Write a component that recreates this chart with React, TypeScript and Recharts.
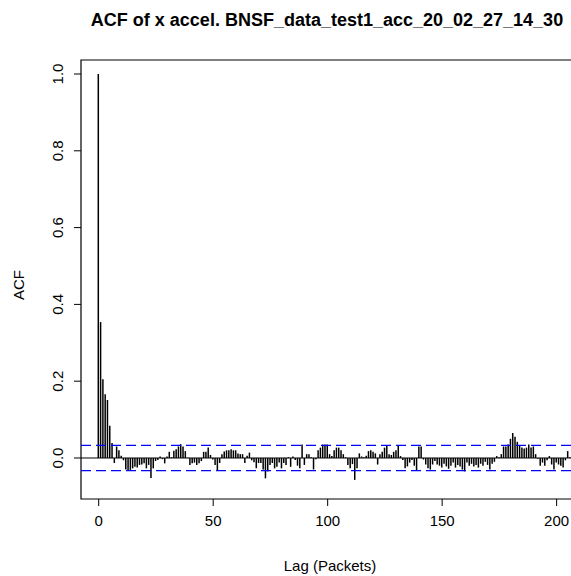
import React from 'react';
import {
  ComposedChart,
  Bar,
  XAxis,
  YAxis,
  ReferenceLine,
  ReferenceArea,
} from 'recharts';

// autocorrelation values, lag 0 .. 206
const acfValues = [
  1.0, 0.354, 0.205, 0.166, 0.151, 0.084, 0.039, -0.013, 0.03, 0.02,
  0.006, -0.006, -0.03, -0.033, -0.031, -0.027, -0.023, -0.025, -0.018, -0.017,
  -0.014, -0.027, -0.018, -0.052, -0.027, -0.008, -0.005, 0.004, -0.003, -0.014,
  0.004, 0.016, 0.002, 0.019, 0.023, 0.03, 0.036, 0.03, 0.018, 0.001,
  -0.018, -0.014, -0.012, -0.018, -0.014, -0.008, 0.016, 0.016, 0.027, 0.008,
  -0.004, -0.018, -0.034, -0.013, 0.01, 0.017, 0.02, 0.02, 0.023, 0.02,
  0.02, 0.012, 0.01, 0.01, -0.013, 0.006, 0.014, -0.006, -0.011, -0.027,
  -0.013, -0.013, -0.03, -0.053, -0.035, -0.018, -0.013, -0.027, -0.023, -0.012,
  -0.027, -0.013, -0.018, 0.002, -0.023, 0.004, -0.005, -0.02, -0.027, 0.035,
  -0.018, 0.01, 0.01, 0.002, -0.03, -0.003, 0.02, 0.027, 0.035, 0.035,
  0.035, 0.01, 0.005, 0.02, 0.027, 0.027, 0.02, 0.01, 0.002, -0.018,
  -0.027, -0.016, -0.057, -0.027, 0.012, 0.004, 0.002, 0.006, 0.018, 0.02,
  0.016, 0.012, -0.017, 0.01, 0.016, 0.027, 0.032, 0.01, 0.008, 0.016,
  0.02, 0.032, 0.005, -0.005, -0.027, -0.022, -0.012, -0.005, -0.02, -0.033,
  0.03, 0.03, -0.004, -0.017, -0.027, -0.03, -0.017, -0.008, -0.017, -0.02,
  -0.025, -0.015, -0.022, -0.028, -0.02, -0.012, -0.025, -0.018, -0.022, -0.03,
  -0.035, -0.012, -0.02, -0.015, -0.022, -0.018, -0.025, -0.015, -0.02, -0.01,
  -0.018, -0.03, -0.015, -0.01, 0.005, 0.002, 0.01, 0.03, 0.03, 0.035,
  0.05, 0.065, 0.055, 0.042, 0.033, 0.027, 0.025, 0.027, 0.035, 0.027,
  0.03, 0.01, -0.002, -0.02, -0.012, -0.02, -0.006, 0.005, -0.017, -0.03,
  -0.012, -0.017, -0.02, -0.025, -0.006, 0.018, 0.002,
];

const xTicks = [0, 50, 100, 150, 200];
const yTicks = [0, 0.2, 0.4, 0.6, 0.8, 1.0];
const ciBound = 0.033;

const data = acfValues.map((v, i) => ({ lag: i, acf: v }));

const X_DOMAIN: [number, number] = [-7.73, 213.7];
const Y_DOMAIN: [number, number] = [-0.1068, 1.0365];

const font = '"Liberation Sans", Arial, sans-serif';

function YTick(props: any) {
  const { y, payload } = props;
  return (
    <text
      x={63}
      y={y}
      transform={`rotate(-90, 63, ${y})`}
      textAnchor="middle"
      fontSize={15}
      fontFamily={font}
      fill="#000"
    >
      {Number(payload.value).toFixed(1)}
    </text>
  );
}

export default function App() {
  return (
    <div
      style={{
        position: 'absolute',
        left: 0,
        top: 0,
        width: 571,
        height: 576,
        overflow: 'hidden',
        background: '#fff',
        fontFamily: font,
      }}
    >
      <div
        style={{
          position: 'absolute',
          left: 327,
          top: 20,
          transform: 'translate(-50%, -50%)',
          whiteSpace: 'nowrap',
          fontSize: 18,
          fontWeight: 700,
          color: '#000',
        }}
      >
        ACF of x accel. BNSF_data_test1_acc_20_02_27_14_30
      </div>
      <div
        style={{
          position: 'absolute',
          left: 330,
          top: 565,
          transform: 'translate(-50%, -50%)',
          whiteSpace: 'nowrap',
          fontSize: 15,
          color: '#000',
        }}
      >
        Lag (Packets)
      </div>
      <div
        style={{
          position: 'absolute',
          left: 18,
          top: 285,
          transform: 'translate(-50%, -50%) rotate(-90deg)',
          whiteSpace: 'nowrap',
          fontSize: 15,
          color: '#000',
        }}
      >
        ACF
      </div>
      <ComposedChart
        width={600}
        height={576}
        data={data}
        margin={{ top: 60, right: 12, bottom: 0, left: 0 }}
        style={{ position: 'absolute', left: 0, top: 0 }}
      >
        <XAxis
          dataKey="lag"
          type="number"
          domain={X_DOMAIN}
          allowDataOverflow
          ticks={xTicks}
          height={77}
          axisLine={false}
          tickSize={7}
          tickMargin={9}
          tickLine={{ stroke: '#000', strokeWidth: 1 }}
          tick={{ fill: '#000', fontSize: 15, fontFamily: font }}
        />
        <YAxis
          type="number"
          domain={Y_DOMAIN}
          allowDataOverflow
          ticks={yTicks}
          width={81}
          axisLine={false}
          tickSize={7}
          tickLine={{ stroke: '#000', strokeWidth: 1 }}
          tick={<YTick />}
        />
        <ReferenceArea
          x1={X_DOMAIN[0]}
          x2={X_DOMAIN[1]}
          y1={Y_DOMAIN[0]}
          y2={Y_DOMAIN[1]}
          fill="none"
          fillOpacity={0}
          stroke="#000"
          strokeWidth={1.2}
        />
        <ReferenceLine y={0} stroke="#000" strokeWidth={1} />
        <Bar dataKey="acf" fill="#000" barSize={1.5} isAnimationActive={false} />
        <ReferenceLine y={ciBound} stroke="#0000ff" strokeWidth={1.3} strokeDasharray="10 5" />
        <ReferenceLine y={-ciBound} stroke="#0000ff" strokeWidth={1.3} strokeDasharray="10 5" />
      </ComposedChart>
    </div>
  );
}
